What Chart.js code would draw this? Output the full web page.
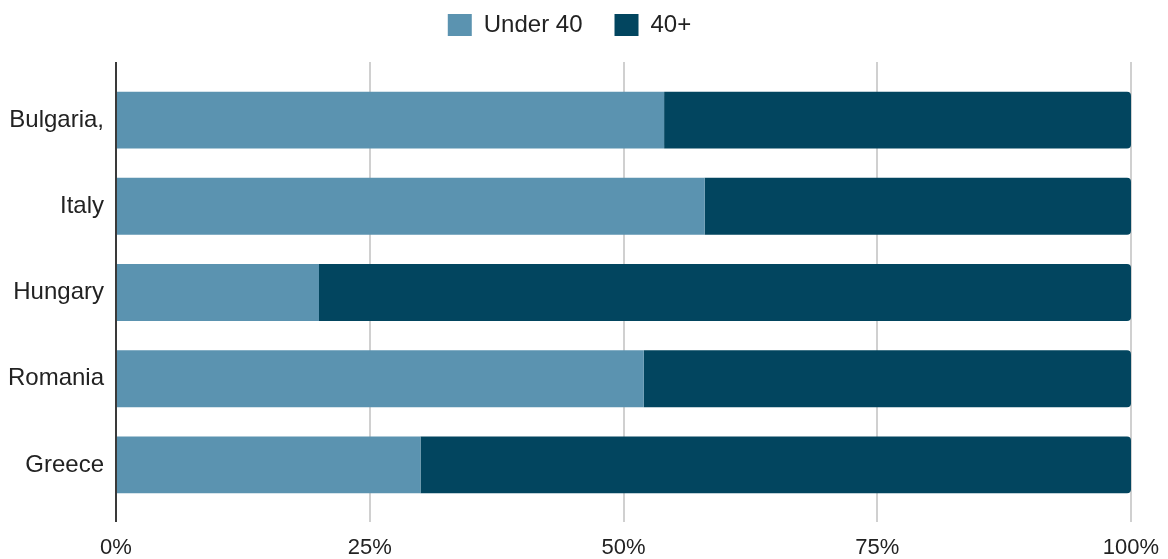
<!DOCTYPE html>
<html>
<head>
  <meta name="viewport" content="width=device-width, initial-scale=1.0">
  <title>Age split by country</title>
  <script src="https://cdn.jsdelivr.net/npm/chart.js"></script>
  <style>
    * { margin: 0; padding: 0; box-sizing: border-box; }
    html, body { width: 100%; height: 100%; background: #ffffff; }
    #wrap { width: 1168px; height: 559px; }
  </style>
</head>
<body>
  <div id="wrap"><canvas id="chart"></canvas></div>
  <script>
    // data
    const countries = ['Bulgaria,', 'Italy', 'Hungary', 'Romania', 'Greece'];
    const under40 = [54, 58, 20, 52, 30];
    const over40 = [46, 42, 80, 48, 70];
    const xTicks = [0, 25, 50, 75, 100];

    const FONT = 'Liberation Sans, Arial, sans-serif';

    // grid lines and the left axis run a bit past the bar area, top and bottom
    const gridOverhang = {
      id: 'gridOverhang',
      beforeDatasetsDraw(chart) {
        const { ctx, chartArea, scales } = chart;
        const up = 15, down = 14, lw = 2;
        ctx.save();
        xTicks.forEach(v => {
          // same pixel snapping chart.js uses for its own grid lines
          const x = Math.round(scales.x.getPixelForValue(v) - lw / 2) + lw / 2;
          ctx.beginPath();
          ctx.lineWidth = lw;
          ctx.strokeStyle = v === 0 ? '#3a3a3a' : '#d0d0d0';
          ctx.moveTo(x, chartArea.top - up);
          ctx.lineTo(x, chartArea.top);
          ctx.moveTo(x, chartArea.bottom);
          ctx.lineTo(x, chartArea.bottom + down);
          ctx.stroke();
        });
        ctx.restore();
      }
    };

    new Chart(document.getElementById('chart'), {
      type: 'bar',
      data: {
        labels: countries,
        datasets: [
          {
            label: 'Under 40',
            data: under40,
            backgroundColor: '#5b93b0',
            borderRadius: 0,
            barPercentage: 0.66,
            categoryPercentage: 1
          },
          {
            label: '40+',
            data: over40,
            backgroundColor: '#02455f',
            borderRadius: { topRight: 4, bottomRight: 4 },
            borderSkipped: false,
            barPercentage: 0.66,
            categoryPercentage: 1
          }
        ]
      },
      options: {
        indexAxis: 'y',
        responsive: true,
        maintainAspectRatio: false,
        animation: false,
        layout: {
          autoPadding: false,
          padding: { left: 8, right: 37, top: -19, bottom: 0 }
        },
        plugins: {
          legend: {
            position: 'top',
            labels: {
              boxWidth: 24,
              boxHeight: 22,
              padding: 32,
              color: '#222',
              font: { family: FONT, size: 24 }
            }
          },
          // empty title used as a spacer between legend and bars
          title: {
            display: true,
            text: '',
            weight: 500,
            padding: { top: 0, bottom: 29 },
            font: { size: 1, lineHeight: 1 }
          },
          tooltip: { enabled: false }
        },
        scales: {
          x: {
            stacked: true,
            min: 0,
            max: 100,
            afterBuildTicks(scale) {
              scale.ticks = xTicks.map(v => ({ value: v }));
            },
            afterFit(scale) {
              scale.height = 51;
              scale.paddingLeft = 0;
              scale.paddingRight = 0;
            },
            ticks: {
              color: '#222',
              padding: 27,
              font: { family: FONT, size: 22 },
              callback: v => v + '%'
            },
            grid: {
              color: '#d0d0d0',
              lineWidth: 2,
              drawTicks: false
            },
            border: { display: false }
          },
          y: {
            stacked: true,
            afterFit(scale) {
              scale.width = 108;
              scale.paddingTop = 0;
              scale.paddingBottom = 0;
            },
            ticks: {
              color: '#222',
              padding: 12,
              font: { family: FONT, size: 24 }
            },
            grid: { display: false, drawTicks: false },
            border: { display: true, color: '#3a3a3a', width: 2 }
          }
        }
      },
      plugins: [gridOverhang]
    });
  </script>
</body>
</html>
